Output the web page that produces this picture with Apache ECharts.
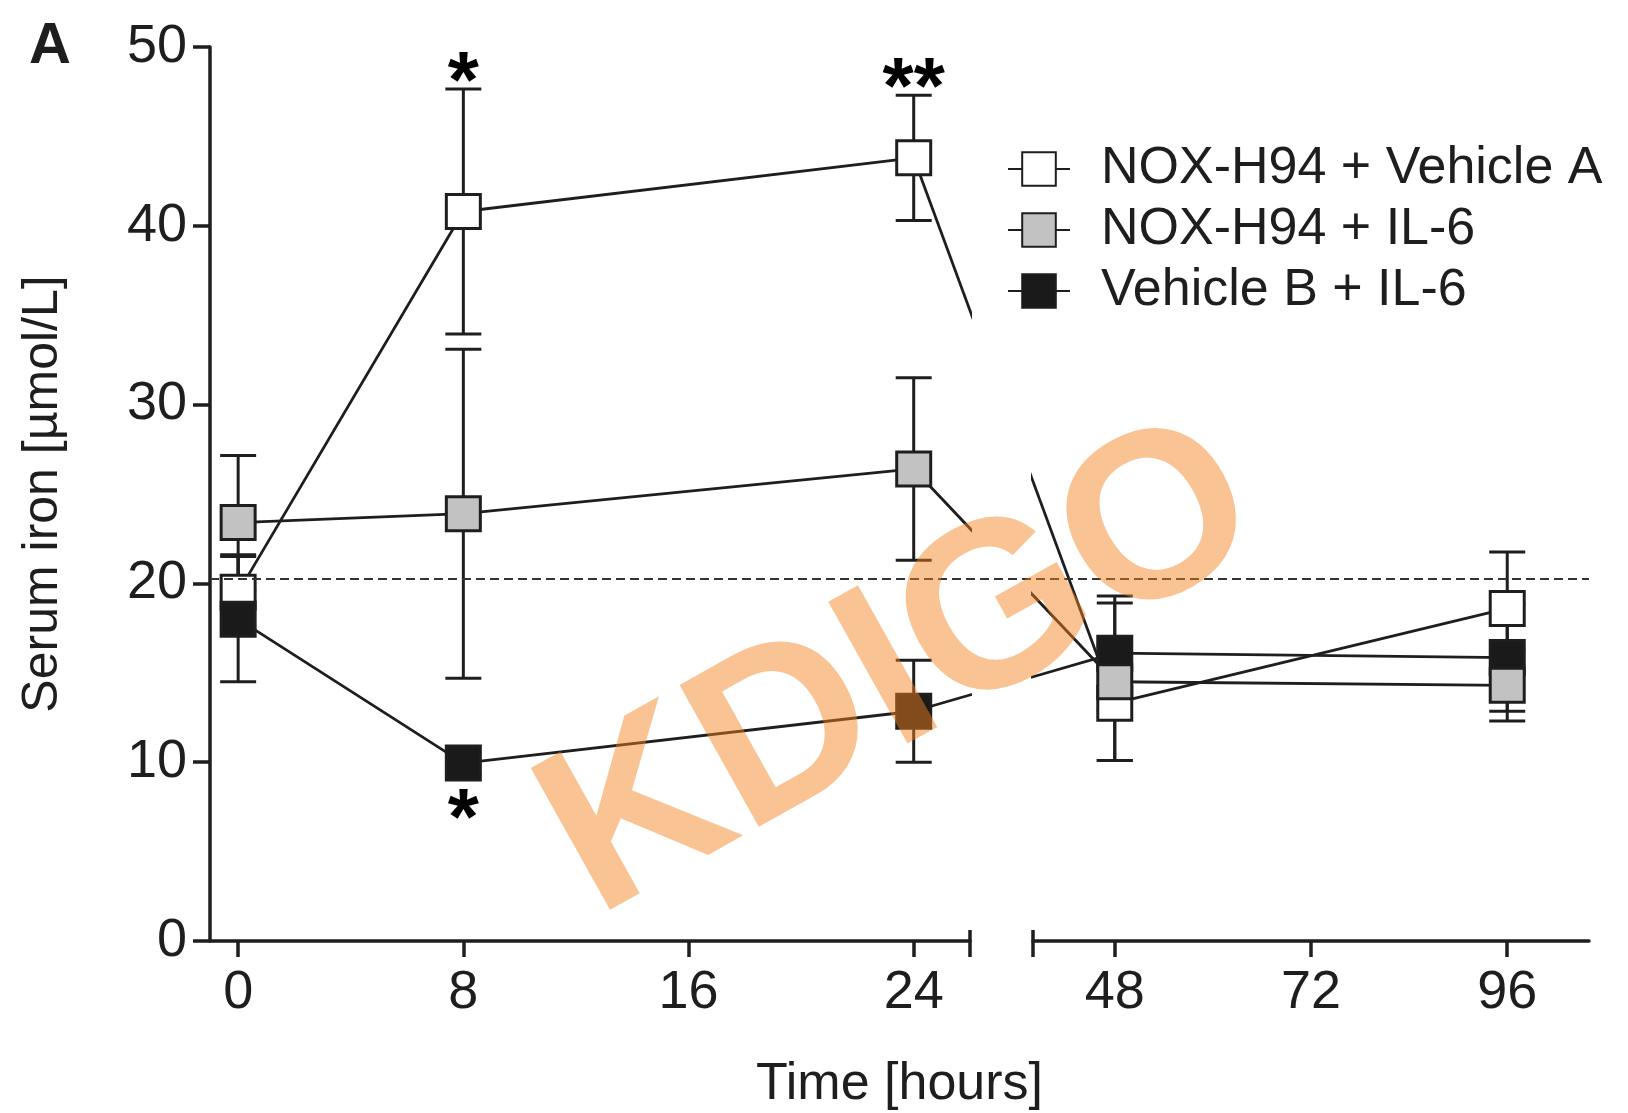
<!DOCTYPE html>
<html>
<head>
<meta charset="utf-8">
<script src="https://cdn.jsdelivr.net/npm/echarts@6/dist/echarts.min.js"></script>
<style>html,body{margin:0;padding:0;background:#fff}#c{width:1628px;height:1113px}</style>
</head>
<body>
<div id="c"></div>
<script>
// ---------- data ----------
const groupNames = ['NOX-H94 + Vehicle A', 'NOX-H94 + IL-6', 'Vehicle B + IL-6'];
const timesEarly = [0, 8, 24];
const timesLate = [48, 96];
const meanVehicleA = [19.5, 40.8, 43.8, 13.3, 18.6];
const semVehicleA  = [2.1, 6.85, 3.5, 3.2, 3.15];
const meanNoxIL6   = [23.4, 23.9, 26.4, 14.5, 14.3];
const semNoxIL6    = [3.75, 9.2, 5.1, 4.4, 2.0];
const meanVehBIL6  = [18.0, 9.95, 12.85, 16.1, 15.85];
const semVehBIL6   = [3.5, 0.6, 2.85, 3.2, 3.0];
const yTicks = [0, 10, 20, 30, 40, 50];
const xTicksEarly = [0, 8, 16, 24];
const xTicksLate = [48, 72, 96];
const referenceLevel = 20.25;
const sigMarks = [
  {group: 0, t: 8, text: '*', side: 'above'},
  {group: 0, t: 24, text: '**', side: 'above'},
  {group: 2, t: 8, text: '*', side: 'below'}
];

// ---------- styles ----------
const FONT = '"Liberation Sans", Arial, Helvetica, sans-serif';
const INK = '#1e1e1e';
const fills = ['#ffffff', '#c2c2c2', '#1a1a1a'];
const drawOrder = [0, 2, 1];
const groups = [
  {name: groupNames[0], mean: meanVehicleA, sem: semVehicleA},
  {name: groupNames[1], mean: meanNoxIL6, sem: semNoxIL6},
  {name: groupNames[2], mean: meanVehBIL6, sem: semVehBIL6}
];
const nE = timesEarly.length;
const lineStyle = {color: INK, width: 2.8};

function renderErr(params, api) {
  const x = api.value(0), m = api.value(1), s = api.value(2);
  const top = api.coord([x, m + s]);
  const bot = api.coord([x, m - s]);
  const hw = 18;
  const st = {stroke: INK, lineWidth: 3, fill: null};
  return {type: 'group', children: [
    {type: 'line', shape: {x1: top[0], y1: top[1], x2: bot[0], y2: bot[1]}, style: st},
    {type: 'line', shape: {x1: top[0] - hw, y1: top[1], x2: top[0] + hw, y2: top[1]}, style: st},
    {type: 'line', shape: {x1: bot[0] - hw, y1: bot[1], x2: bot[0] + hw, y2: bot[1]}, style: st}
  ]};
}

const series = [];
drawOrder.forEach(function (g) {
  const grp = groups[g];
  const early = timesEarly.map(function (t, i) { return [t, grp.mean[i], grp.sem[i]]; });
  const late = timesLate.map(function (t, i) { return [t, grp.mean[nE + i], grp.sem[nE + i]]; });
  [[early, 0], [late, 1]].forEach(function (pair) {
    const d = pair[0], ax = pair[1];
    series.push({
      type: 'custom', xAxisIndex: ax, yAxisIndex: ax, renderItem: renderErr,
      encode: {x: 0, y: 1}, data: d, clip: false, silent: true
    });
    series.push({
      type: 'line', name: grp.name, xAxisIndex: ax, yAxisIndex: ax,
      data: d.map(function (p) { return [p[0], p[1]]; }),
      symbol: 'rect', symbolSize: 34, showSymbol: true,
      itemStyle: {color: fills[g], borderColor: INK, borderWidth: 3},
      lineStyle: lineStyle, emphasis: {disabled: true}, silent: true
    });
  });
});

// significance marks
series.push({
  type: 'scatter', xAxisIndex: 0, yAxisIndex: 0, symbol: 'circle', symbolSize: 2,
  itemStyle: {color: 'rgba(0,0,0,0)'}, silent: true, z: 5,
  data: sigMarks.map(function (s) {
    const grp = groups[s.group];
    const i = timesEarly.indexOf(s.t);
    const v = s.side === 'above' ? grp.mean[i] + grp.sem[i] : grp.mean[i];
    return {
      value: [s.t, v],
      label: {
        show: true, formatter: s.text,
        position: s.side === 'above' ? 'top' : 'bottom',
        distance: s.side === 'above' ? -37 : 18,
        fontSize: 80, fontWeight: 'bold', fontFamily: FONT, color: '#000', opacity: 1
      }
    };
  })
});

// reference dashed line across whole plot
series.push({
  type: 'line', xAxisIndex: 2, yAxisIndex: 2, data: [], silent: true,
  markLine: {
    silent: true, symbol: ['none', 'none'], label: {show: false},
    lineStyle: {color: '#333', width: 2, type: [9, 5]},
    data: [{yAxis: referenceLevel}]
  }
});

const axisLine = {show: true, onZero: false, lineStyle: {color: INK, width: 3.5}};
const labelStyle = {fontSize: 54, fontFamily: FONT, color: INK};

const option = {
  animation: false,
  backgroundColor: '#ffffff',
  title: {text: 'A', left: 24, top: 13, textStyle: {fontSize: 58, fontWeight: 'bold', fontFamily: FONT, color: INK}},
  legend: {
    orient: 'vertical', left: 1002, top: 138, itemWidth: 62, itemHeight: 42, itemGap: 9,
    data: groupNames, selectedMode: false,
    textStyle: {fontSize: 52, fontFamily: FONT, color: INK, padding: [0, 0, 0, 26]}
  },
  grid: [
    {left: 210, right: 658, top: 47, bottom: 172, outerBoundsMode: 'none'},
    {left: 1033, right: 39, top: 47, bottom: 172, outerBoundsMode: 'none'},
    {left: 210, right: 39, top: 47, bottom: 172, outerBoundsMode: 'none'}
  ],
  xAxis: [
    {type: 'value', gridIndex: 0, position: 'bottom', min: -1, max: 26, axisLine: axisLine,
     axisTick: {show: true, length: 16, lineStyle: {color: INK, width: 3.5}, customValues: xTicksEarly.concat([26])},
     axisLabel: Object.assign({margin: 25, customValues: xTicksEarly}, labelStyle),
     splitLine: {show: false}},
    {type: 'value', gridIndex: 1, position: 'bottom', min: 38, max: 106, axisLine: axisLine,
     axisTick: {show: true, length: 16, lineStyle: {color: INK, width: 3.5}, customValues: [38].concat(xTicksLate)},
     axisLabel: Object.assign({margin: 25, customValues: xTicksLate}, labelStyle),
     splitLine: {show: false}},
    {type: 'value', gridIndex: 2, position: 'bottom', min: 0, max: 1, name: 'Time [hours]', nameLocation: 'middle', nameGap: 118,
     nameTextStyle: {fontSize: 52, fontFamily: FONT, color: INK},
     axisLine: {show: false, onZero: false}, axisTick: {show: false}, axisLabel: {show: false}, splitLine: {show: false}},
    {type: 'value', gridIndex: 0, position: 'bottom', min: -1, max: 26, axisLine: {show: false, onZero: false},
     axisTick: {show: true, inside: true, length: 11, lineStyle: {color: INK, width: 3.5}, customValues: [26]},
     axisLabel: {show: false}, splitLine: {show: false}},
    {type: 'value', gridIndex: 1, position: 'bottom', min: 38, max: 106, axisLine: {show: false, onZero: false},
     axisTick: {show: true, inside: true, length: 11, lineStyle: {color: INK, width: 3.5}, customValues: [38]},
     axisLabel: {show: false}, splitLine: {show: false}}
  ],
  yAxis: [
    {type: 'value', gridIndex: 0, position: 'left', min: 0, max: 50, interval: 10, axisLine: axisLine,
     axisTick: {show: true, length: 17, lineStyle: {color: INK, width: 3.5}},
     axisLabel: Object.assign({margin: 23, customValues: yTicks}, labelStyle),
     splitLine: {show: false},
     name: 'Serum iron [µmol/L]', nameLocation: 'middle', nameGap: 142,
     nameTextStyle: {fontSize: 50, fontFamily: FONT, color: INK}},
    {type: 'value', gridIndex: 1, min: 0, max: 50, show: false, splitLine: {show: false}},
    {type: 'value', gridIndex: 2, min: 0, max: 50, show: false, splitLine: {show: false}}
  ],
  series: series,
  graphic: [{
    type: 'text', x: 902, y: 672, rotation: 0.51, z: 100, silent: true,
    style: {text: 'KDIGO', fontSize: 236, fontWeight: 'bold', fontFamily: FONT,
            fill: 'rgba(245,130,30,0.48)', align: 'center', verticalAlign: 'middle'}
  }]
};

const chart = echarts.init(document.getElementById('c'));
chart.setOption(option);

// bridges across the axis break, positioned through the library's own scales
const px48 = chart.convertToPixel({xAxisIndex: 1}, timesLate[0]);
const t48InEarly = chart.convertFromPixel({xAxisIndex: 0}, px48);
const px24 = chart.convertToPixel({xAxisIndex: 0}, timesEarly[nE - 1]);
const t24InLate = chart.convertFromPixel({xAxisIndex: 1}, px24);
const bridges = [];
drawOrder.forEach(function (g) {
  const a = groups[g].mean[nE - 1], b = groups[g].mean[nE];
  bridges.push({type: 'line', xAxisIndex: 0, yAxisIndex: 0, z: 1, symbol: 'none', clip: true, silent: true,
    data: [[timesEarly[nE - 1], a], [t48InEarly, b]], lineStyle: lineStyle});
  bridges.push({type: 'line', xAxisIndex: 1, yAxisIndex: 1, z: 1, symbol: 'none', clip: true, silent: true,
    data: [[t24InLate, a], [timesLate[0], b]], lineStyle: lineStyle});
});
chart.setOption({series: series.concat(bridges)});
</script>
</body>
</html>
